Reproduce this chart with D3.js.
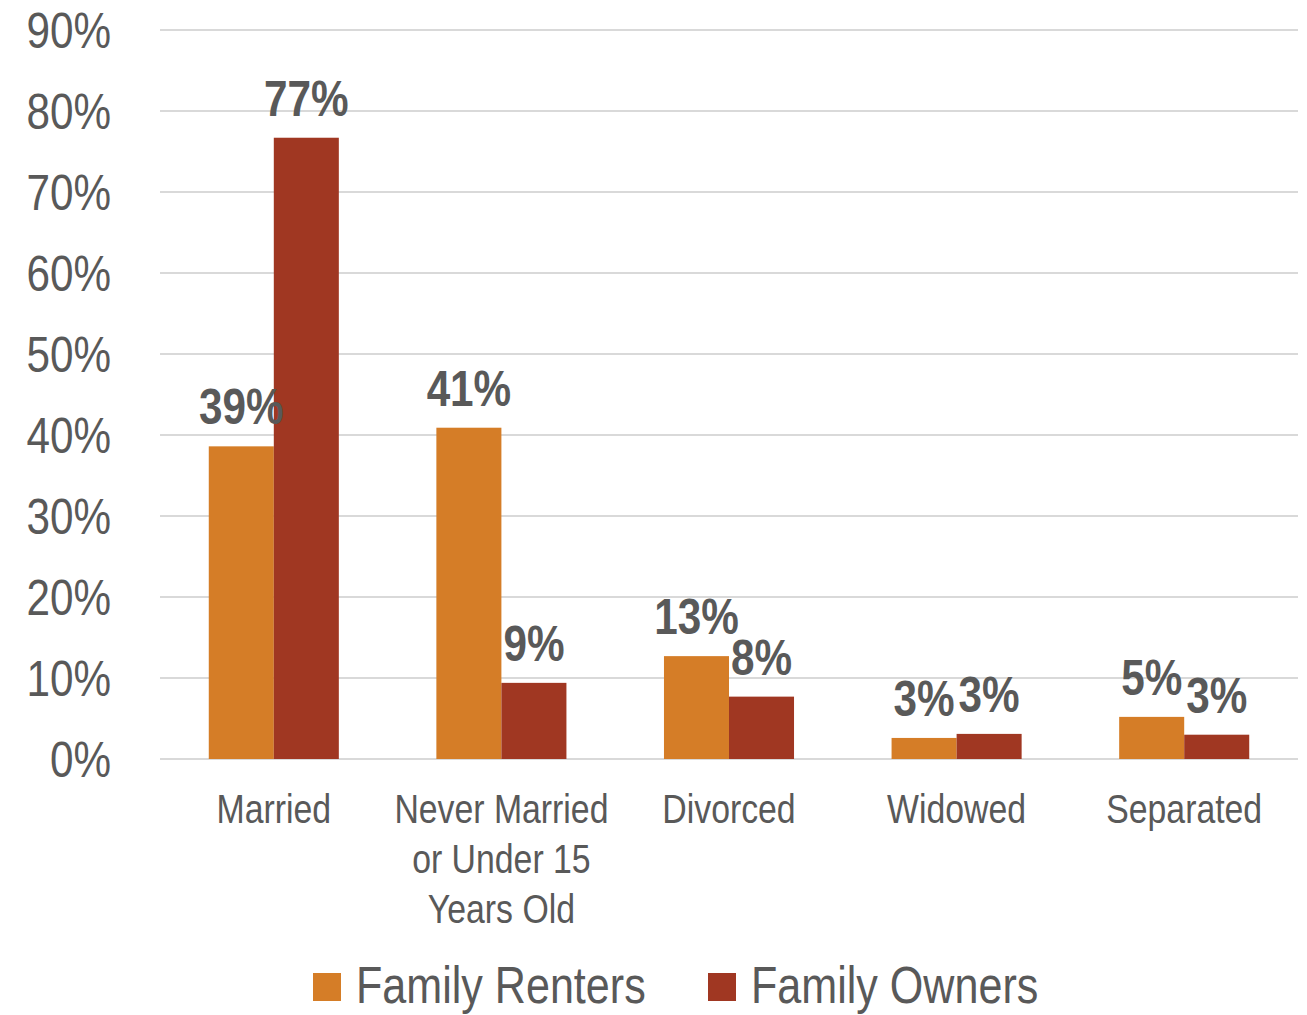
<!DOCTYPE html>
<html>
<head>
<meta charset="utf-8">
<script src="https://cdn.jsdelivr.net/npm/d3@7"></script>
<style>
  body { margin: 0; background: #fff; }
  text { font-family: "Liberation Sans", Arial, sans-serif; fill: #595959; }
</style>
</head>
<body>
<script>
//-----------------Data----------------

const categories = ["Married", "Never Married or Under 15 Years Old", "Divorced", "Widowed", "Separated"];
const categoryLines = [["Married"], ["Never Married", "or Under 15", "Years Old"], ["Divorced"], ["Widowed"], ["Separated"]];
const seriesNames = ["Family Renters", "Family Owners"];
const renters = [0.386, 0.409, 0.127, 0.026, 0.052];
const owners = [0.767, 0.094, 0.077, 0.031, 0.030];
const yTicks = [0, 0.1, 0.2, 0.3, 0.4, 0.5, 0.6, 0.7, 0.8, 0.9];
const colors = ["#D57D27", "#A03722"];

//-----------------Svg----------------

const width = 1307;
const height = 1015;
const narrow = 0.845; // no Arial Narrow here, so squeeze Liberation Sans
const svg = d3.select("body").append("svg").attr("width", width).attr("height", height);

// places a narrow text at (x, y)
function narrowText(sel, x, y) {
  return sel.attr("transform", (d, i) => `translate(${x(d, i)},${y(d, i)}) scale(${narrow},1)`);
}

const x0 = d3.scaleBand().domain(categories).range([160, 1298]);
const x1 = d3.scaleBand().domain(seriesNames).range([0, x0.bandwidth()]).paddingOuter(0.75);
const y = d3.scaleLinear().domain([0, 0.9]).range([759, 30]);

//-----------------Grid + y labels----------------

const yAxis = svg.append("g");
yAxis.selectAll("line")
  .data(yTicks)
  .enter()
  .append("line")
  .attr("x1", 160)
  .attr("x2", 1298)
  .attr("y1", (d) => y(d))
  .attr("y2", (d) => y(d))
  .style("stroke", "#d9d9d9")
  .style("stroke-width", 2);

yAxis.selectAll("text")
  .data(yTicks)
  .enter()
  .append("text")
  .call(narrowText, () => 111, (d) => y(d))
  .attr("dy", "0.35em")
  .style("text-anchor", "end")
  .style("font-size", "50px")
  .text((d) => d3.format(".0%")(d));

//-----------------Bars----------------

const rows = categories.map((c, i) => ({ cat: c, values: [renters[i], owners[i]] }));

const groups = svg.selectAll(".group")
  .data(rows)
  .enter()
  .append("g")
  .attr("class", "group")
  .attr("transform", (d) => `translate(${x0(d.cat)},0)`);

groups.selectAll("rect")
  .data((d) => d.values.map((v, j) => ({ key: seriesNames[j], v: v, j: j })))
  .enter()
  .append("rect")
  .attr("x", (d) => x1(d.key))
  .attr("width", x1.bandwidth())
  .attr("y", (d) => y(d.v))
  .attr("height", (d) => y(0) - y(d.v))
  .style("fill", (d) => colors[d.j]);

groups.selectAll(".label")
  .data((d) => d.values.map((v, j) => ({ key: seriesNames[j], v: v })))
  .enter()
  .append("text")
  .attr("class", "label")
  .call(narrowText, (d) => x1(d.key) + x1.bandwidth() / 2, (d) => y(d.v) - 22)
  .style("text-anchor", "middle")
  .style("font-size", "50px")
  .style("font-weight", "bold")
  .text((d) => Math.round(d.v * 100) + "%");

//-----------------Category labels----------------

const catGroups = svg.selectAll(".cat")
  .data(categoryLines)
  .enter()
  .append("g")
  .attr("class", "cat")
  .attr("transform", (d, i) => `translate(${x0(categories[i]) + x0.bandwidth() / 2},823)`);

catGroups.selectAll("text")
  .data((d) => d)
  .enter()
  .append("text")
  .call(narrowText, () => 0, (d, i) => i * 50)
  .style("text-anchor", "middle")
  .style("font-size", "40px")
  .text((d) => d);

//-----------------Legend----------------

const legendX = [313, 708];
const legend = svg.append("g");
seriesNames.forEach((name, i) => {
  legend.append("rect")
    .attr("x", legendX[i])
    .attr("y", 973)
    .attr("width", 28)
    .attr("height", 28)
    .style("fill", colors[i]);
  legend.append("text")
    .attr("transform", `translate(${legendX[i] + 43},1003) scale(${narrow},1)`)
    .style("font-size", "51px")
    .text(name);
});
</script>
</body>
</html>
